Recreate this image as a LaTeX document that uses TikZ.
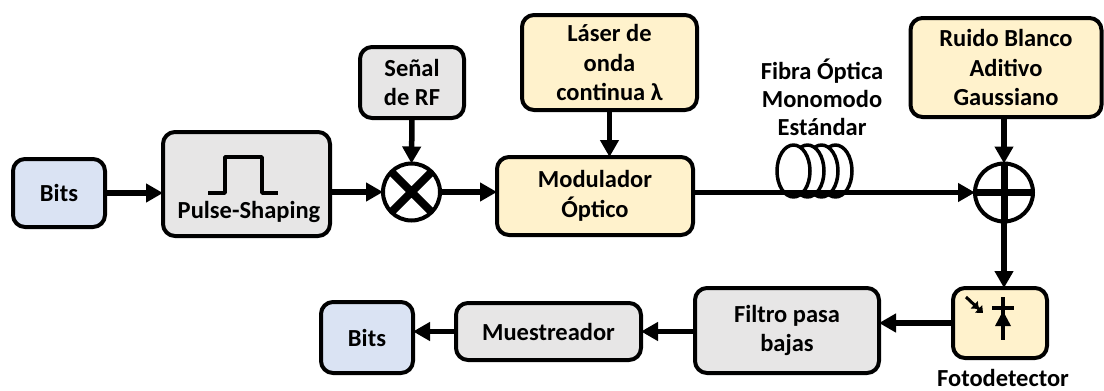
\documentclass[tikz,border=0pt]{standalone}
\usepackage{fontspec}
\setmainfont{Carlito}
\usetikzlibrary{arrows.meta}
\definecolor{azul}{HTML}{DAE3F3}
\definecolor{gris}{HTML}{E7E6E6}
\definecolor{crema}{HTML}{FFF2CC}
\begin{document}
\begin{tikzpicture}[x=1pt,y=-1pt,>={Triangle[length=17pt,width=18pt]},line join=round,
    font=\fontsize{24.5}{29.5}\selectfont\bfseries,
    caja/.style={draw,line width=4pt,rounded corners=12pt,align=center,inner sep=0pt,outer sep=0pt},
    nodo/.style={circle,draw,line width=4pt,fill=white,inner sep=0pt,outer sep=0pt},
    flecha/.style={->,line width=5.5pt}]
    \useasboundingbox (0,0) rectangle (1104,391);
    % transmisor
    \node[caja,fill=azul,minimum width=92pt,minimum height=68pt] (bitsTx) at (59,193) {Bits};
    \node[caja,fill=gris,minimum width=167pt,minimum height=104pt] (pulso) at (246.5,184) {};
    \node (pulsoTxt) at (249,212) {Pulse-Shaping};
    \draw[line width=3.5pt] (208,193) -- (225,193) -- (225,157) -- (262,157) -- (262,193) -- (278,193);
    \node[nodo,minimum size=57pt] (mult) at (411.5,192) {};
    \draw[line width=8pt] (mult.45) -- (mult.225) (mult.135) -- (mult.315);
    \node[caja,fill=gris,minimum width=104pt,minimum height=71pt] (senal) at (412,82.5) {Señal\\de RF};
    \node[caja,fill=crema,minimum width=175pt,minimum height=95pt] (laser) at (609.5,62.5) {Láser de\\onda\\continua λ};
    \node[caja,fill=crema,minimum width=196pt,minimum height=78pt] (mod) at (595,196) {Modulador\\Óptico};
    % fibra
    \foreach \i in {3,2,1,0}
        \draw[line width=3.5pt,fill=white] (793.5+14*\i,171) ellipse (16.5 and 26);
    \node[align=center,font=\fontsize{24.5}{28}\selectfont\bfseries] (fibraTxt) at (822,97) {Fibra Óptica\\Monomodo\\Estándar};
    \node[caja,fill=crema,minimum width=191pt,minimum height=99pt] (ruido) at (1006,67.5) {Ruido Blanco\\Aditivo\\Gaussiano};
    \node[nodo,minimum size=58pt] (suma) at (1004,192.5) {};
    \draw[line width=7pt] (suma.north) -- (suma.south) (suma.west) -- (suma.east);
    % receptor
    \node[caja,fill=crema,minimum width=94pt,minimum height=70pt] (foto) at (1000,323) {};
    \node[inner sep=1pt] (fotoTxt) at (1003,377.5) {Fotodetector};
    \draw[line width=3.5pt] (1003,297) -- (1003,340) (992,308) -- (1014,308);
    \fill (1003,311) -- (995,326) -- (1011,326) -- cycle;
    \draw[line width=3pt,-{Triangle[length=6pt,width=10pt] Triangle[length=6pt,width=10pt]}] (966,297) -- (983,313);
    \node[caja,fill=gris,minimum width=184pt,minimum height=85pt] (filtro) at (787,330.5) {Filtro pasa\\bajas};
    \node[caja,fill=gris,minimum width=185pt,minimum height=57pt] (muestreo) at (548.5,331.5) {Muestreador};
    \node[caja,fill=azul,minimum width=92pt,minimum height=71pt] (bitsRx) at (367,337.5) {Bits};
    % conexiones
    \draw[flecha] (bitsTx.east) -- (pulso.west |- bitsTx.east);
    \draw[flecha] (pulso.east |- mult.west) -- (mult.west);
    \draw[flecha] (senal.south) -- (mult.north);
    \draw[flecha] (mult.east) -- (mod.west |- mult.east);
    \draw[flecha] (laser.south) -- (laser.south |- mod.north);
    \draw[flecha] (suma.west -| mod.east) -- (suma.west);
    \draw[flecha] (suma.north |- ruido.south) -- (suma.north);
    \draw[flecha] (suma.south) -- (suma.south |- foto.north);
    \draw[flecha] (foto.west) -- (filtro.east |- foto.west);
    \draw[flecha] (filtro.west |- muestreo.east) -- (muestreo.east);
    \draw[flecha] (muestreo.west) -- (bitsRx.east |- muestreo.west);
\end{tikzpicture}
\end{document}
